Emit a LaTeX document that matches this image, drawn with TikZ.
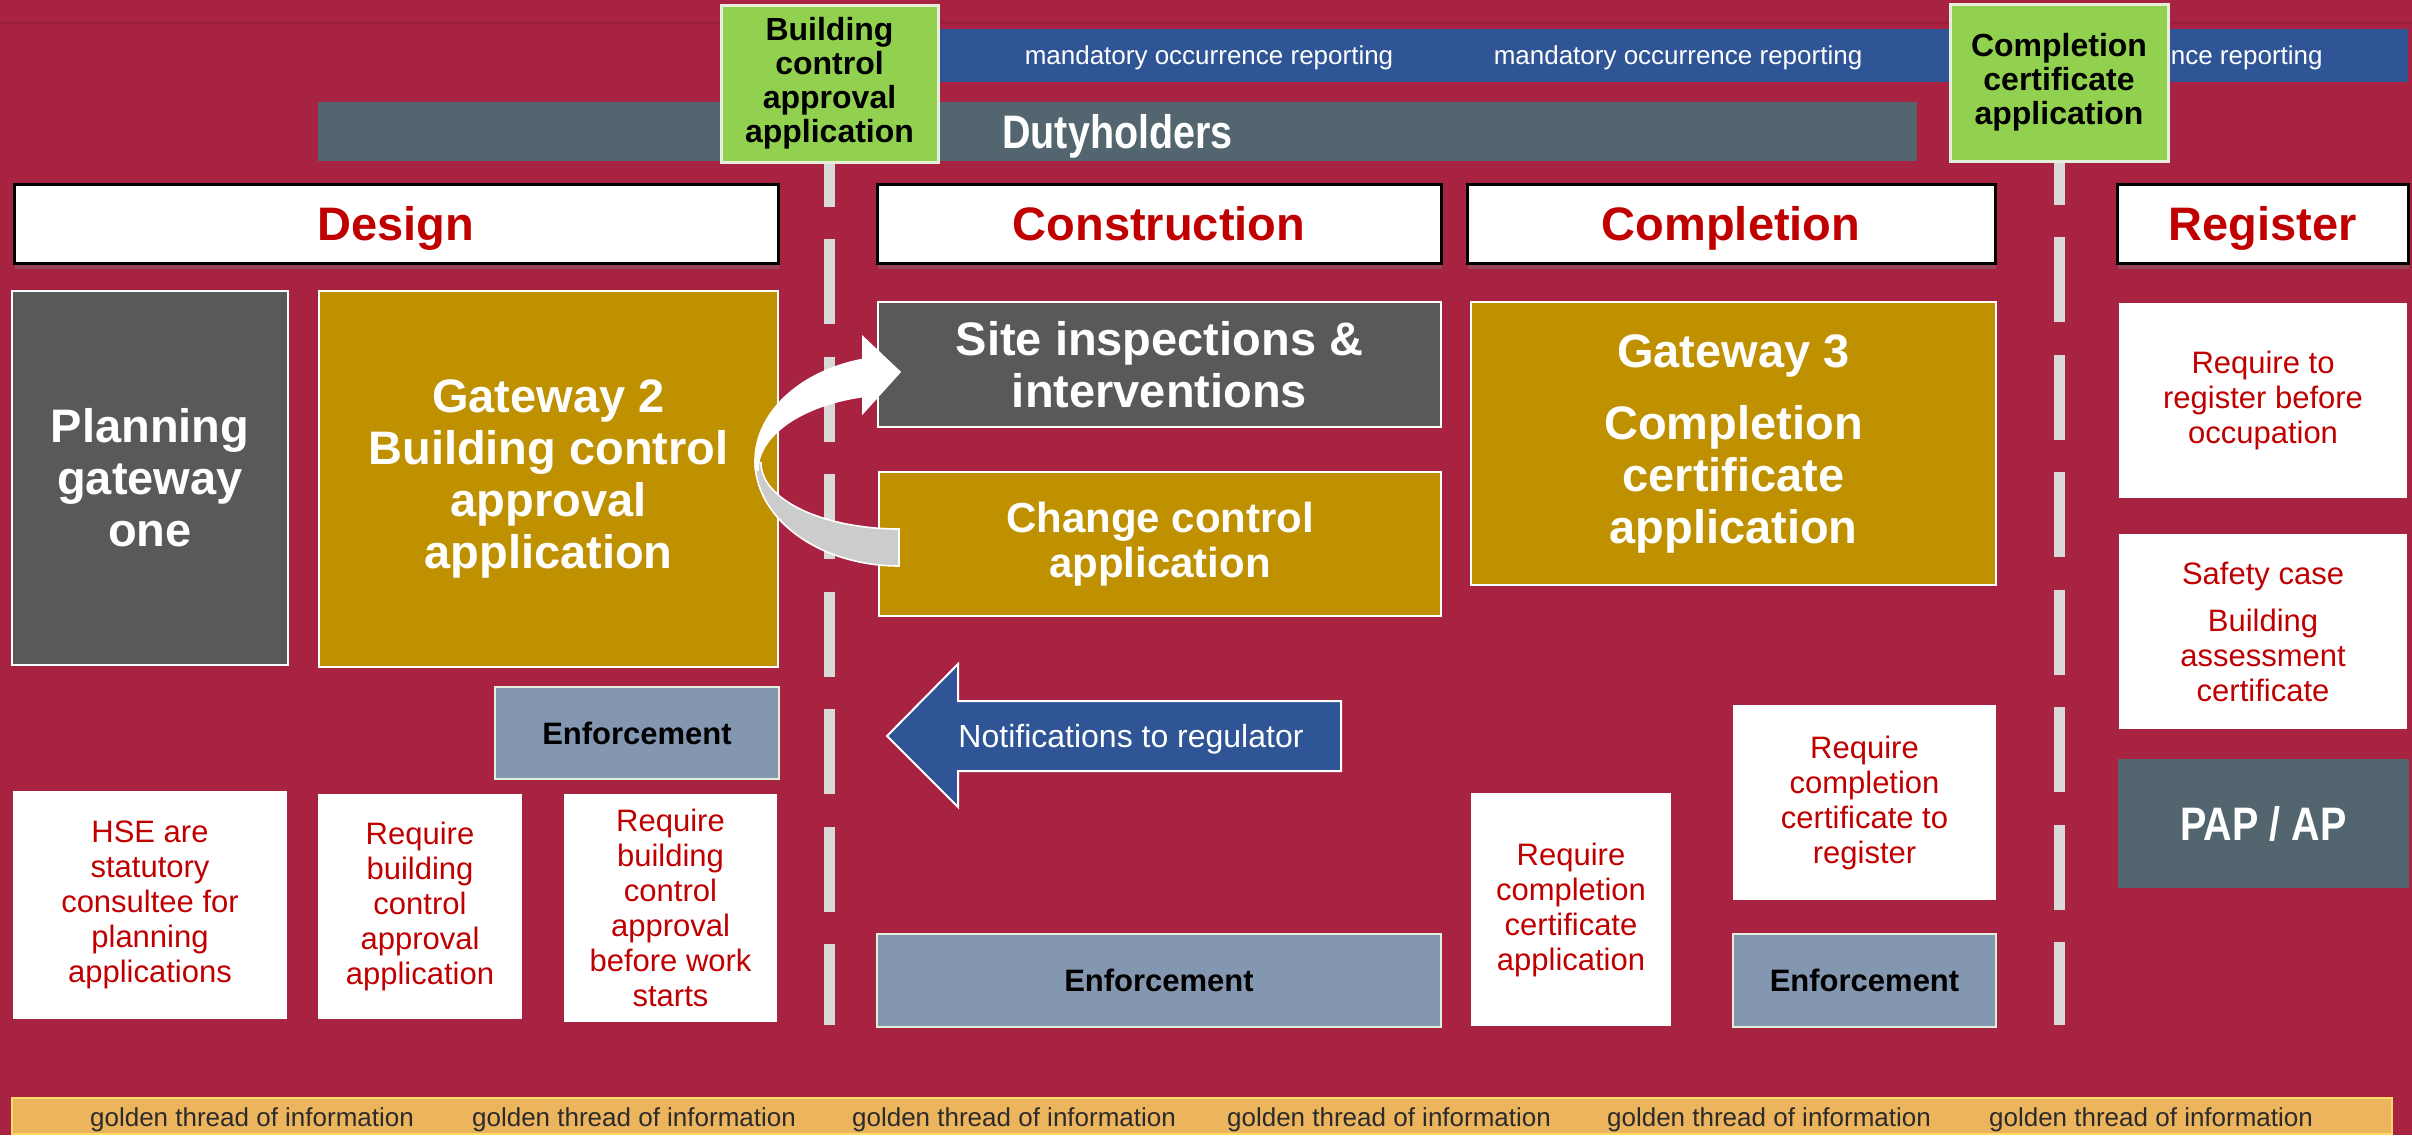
\documentclass[tikz,border=0pt]{standalone}
\usepackage{fontspec}
\setmainfont{Liberation Sans}
\newfontfamily\narrowfont[FakeStretch=0.84]{Liberation Sans}
\usetikzlibrary{shadows}
\definecolor{bgred}{HTML}{A82241}
\definecolor{topln}{HTML}{9A1E38}
\definecolor{hred}{HTML}{C00000}
\definecolor{goldc}{HTML}{BF9000}
\definecolor{dgray}{HTML}{595959}
\definecolor{enfc}{HTML}{8497B0}
\definecolor{enfb}{HTML}{E2EFDA}
\definecolor{lgreen}{HTML}{92D050}
\definecolor{gborder}{HTML}{E6EEDC}
\definecolor{morblue}{HTML}{2F5597}
\definecolor{dutyc}{HTML}{53666F}
\definecolor{goldband}{HTML}{EDB45E}
\definecolor{goldline}{HTML}{FFD966}
\definecolor{gtext}{HTML}{2B2B2B}
\definecolor{sepc}{HTML}{D9D9D9}
\definecolor{arrgray}{HTML}{CCCCCC}
\newcommand\fsBig{\fontsize{23.5}{26}\selectfont}
\newcommand\fsChg{\fontsize{21}{22.5}\selectfont}
\newcommand\fsGreen{\fontsize{16}{17}\selectfont}
\newcommand\fsEnf{\fontsize{15.5}{17.5}\selectfont}
\newcommand\fsReq{\fontsize{15.5}{17.5}\selectfont}
\newcommand\fsNote{\fontsize{16}{18}\selectfont}
\newcommand\fsBand{\fontsize{13}{15}\selectfont}
\begin{document}
\begin{tikzpicture}[x=0.5pt,y=-0.5pt,
  base/.style={rectangle, inner sep=0pt, align=center},
  hdr/.style={base, fill=white, draw=black, line width=1.5pt, text=hred,
    font=\bfseries\fsBig, minimum height=39.5pt, text height=16.8pt, text depth=0pt,
    drop shadow={shadow xshift=0.5pt, shadow yshift=-3pt, opacity=0.4}},
  goldbox/.style={base, fill=goldc, draw=white, line width=0.8pt, text=white, font=\bfseries\fsBig},
  greybox/.style={base, fill=dgray, draw=white, line width=0.8pt, text=white, font=\bfseries\fsBig},
  enfbox/.style={base, fill=enfc, draw=enfb, line width=1.2pt, text=black, font=\bfseries\fsEnf,
    text height=11.1pt, text depth=0pt},
  reqbox/.style={base, fill=white, text=hred, font=\fsReq},
  gbox/.style={base, fill=lgreen, draw=gborder, line width=1.5pt, text=black, font=\bfseries\fsGreen,
    minimum height=78.5pt},
  band/.style={base},
  bandtext/.style={inner sep=0pt, text=white, font=\fsBand, text height=9.3pt, text depth=0pt},
  goldtext/.style={inner sep=0pt, text=gtext, font=\fsBand, text height=9.3pt, text depth=0pt},
  sepline/.style={draw=sepc, line width=5.5pt, dash pattern=on 42.5pt off 16.25pt},
]
\useasboundingbox (0,0) rectangle (2412,1135);
\fill[bgred] (0,0) rectangle (2412,1135);
\draw[topln, line width=1pt] (0,23) -- (2412,23);

% top bands
\node[band, fill=morblue, minimum width=736.5pt, minimum height=26.5pt] (mor) at (1671.5,55.5) {};
\node[bandtext] (mor1) at (1209,55.5) {mandatory occurrence reporting};
\node[bandtext] (mor2) at (1678,55.5) {mandatory occurrence reporting};
\node[bandtext, anchor=east] (mor3) at (2323,55.5) {nce reporting};
\node[band, fill=dutyc, minimum width=799.5pt, minimum height=29.5pt, text=white,
  font=\narrowfont\bfseries\fsBig, text height=16.8pt, text depth=0pt] (duty) at (1117.5,131.5) {Dutyholders};

% green gate boxes
\node[gbox, minimum width=108.5pt] (g1) at (829.5,83.5) {Building\\control\\approval\\application};
\node[gbox, minimum width=109pt] (g2) at (2059,82.5) {Completion\\certificate\\application};

% separators
\coordinate (d1end) at (829.5,1025);
\coordinate (d2end) at (2059,1025);
\draw[sepline, dash phase=21pt] (g1.south) -- (d1end);
\draw[sepline, dash phase=21.5pt] (g2.south) -- (d2end);

% headers
\node[hdr, minimum width=382pt] (hdesign) at (396,223.5) {Design};
\node[hdr, minimum width=282pt] (hcons) at (1159,223.5) {Construction};
\node[hdr, minimum width=264pt] (hcomp) at (1731,223.5) {Completion};
\node[hdr, minimum width=145.5pt] (hreg) at (2262.5,223.5) {Register};

% design column
\node[greybox, minimum width=138pt, minimum height=187pt] (plan) at (150,478) {Planning\\gateway\\one};
\node[goldbox, minimum width=229.5pt, minimum height=188pt] (gw2) at (548.5,479)
  {Gateway 2\\Building control\\approval\\application};
\node[enfbox, minimum width=142pt, minimum height=46pt] (enf1) at (637,733) {Enforcement};
\node[reqbox, minimum width=137pt, minimum height=114pt] (hse) at (150,905)
  {HSE are\\statutory\\consultee for\\planning\\applications};
\node[reqbox, minimum width=102pt, minimum height=112.5pt] (rbca) at (420,906.5)
  {Require\\building\\control\\approval\\application};
\node[reqbox, minimum width=106.5pt, minimum height=114pt] (rbcb) at (670.5,908)
  {Require\\building\\control\\approval\\before work\\starts};

% construction column
\node[greybox, minimum width=281.5pt, minimum height=62.5pt] (site) at (1159.5,364.5)
  {Site inspections \&\\interventions};
\node[goldbox, font=\bfseries\fsChg, minimum width=281pt, minimum height=72pt] (chg) at (1160,544)
  {Change control\\application};
\node[enfbox, minimum width=282pt, minimum height=46.5pt] (enf2) at (1159,980.5) {Enforcement};

% notifications arrow
\draw[fill=morblue, draw=white, line width=1pt]
  (887,736) -- (958,664) -- (958,701) -- (1341,701) -- (1341,771) -- (958,771) -- (958,807) -- cycle;
\node[inner sep=0pt, text=white, font=\fsNote, text height=11.5pt, text depth=0pt] (notif) at (1131,736) {Notifications to regulator};

% completion column
\node[goldbox, minimum width=262.5pt, minimum height=141.5pt] (gw3) at (1733.5,443.5)
  {Gateway 3\\[10pt]Completion\\certificate\\application};
\node[reqbox, minimum width=100pt, minimum height=116.5pt] (rcca) at (1571,909.5)
  {Require\\completion\\certificate\\application};
\node[reqbox, minimum width=131.5pt, minimum height=97.5pt] (rccr) at (1864.5,802.5)
  {Require\\completion\\certificate to\\register};
\node[enfbox, minimum width=131.5pt, minimum height=46.5pt] (enf3) at (1864.5,980.5) {Enforcement};

% register column
\node[reqbox, minimum width=144pt, minimum height=97.5pt] (rreg) at (2263,400.5)
  {Require to\\register before\\occupation};
\node[reqbox, minimum width=144pt, minimum height=97.5pt] (rsafe) at (2263,631.5)
  {Safety case\\[6pt]Building\\assessment\\certificate};
\node[band, fill=dutyc, minimum width=145.5pt, minimum height=64.5pt, text=white,
  font=\narrowfont\bfseries\fsBig, text height=16.8pt, text depth=0pt] (pap) at (2263.5,823.5) {PAP / AP};

% golden thread band
\node[band, fill=goldband, draw=goldline, line width=1pt, minimum width=1190pt, minimum height=18pt]
  (gold) at (1202,1116) {};
\node[goldtext] (gt1) at (252,1117) {golden thread of information};
\node[goldtext] (gt2) at (634,1117) {golden thread of information};
\node[goldtext] (gt3) at (1014,1117) {golden thread of information};
\node[goldtext] (gt4) at (1389,1117) {golden thread of information};
\node[goldtext] (gt5) at (1769,1117) {golden thread of information};
\node[goldtext] (gt6) at (2151,1117) {golden thread of information};

% curved arrow from change control to site inspections
\draw[fill=arrgray, draw=white, line width=0.8pt]
  plot[domain=180:270, samples=40] ({899+144*cos(\x)},{461-105*sin(\x)})
  -- plot[domain=270:180, samples=40] ({899+138*cos(\x)},{463-66*sin(\x)}) -- cycle;
\draw[fill=white, draw=white, line width=0.8pt]
  (900,372) -- (863,337)
  -- plot[domain=104.5:185, samples=40] ({899+144*cos(\x)},{461-105*sin(\x)})
  -- plot[domain=180:104.8, samples=40] ({899+141*cos(\x)},{470-76*sin(\x)})
  -- (863,413) -- cycle;
\end{tikzpicture}
\end{document}
